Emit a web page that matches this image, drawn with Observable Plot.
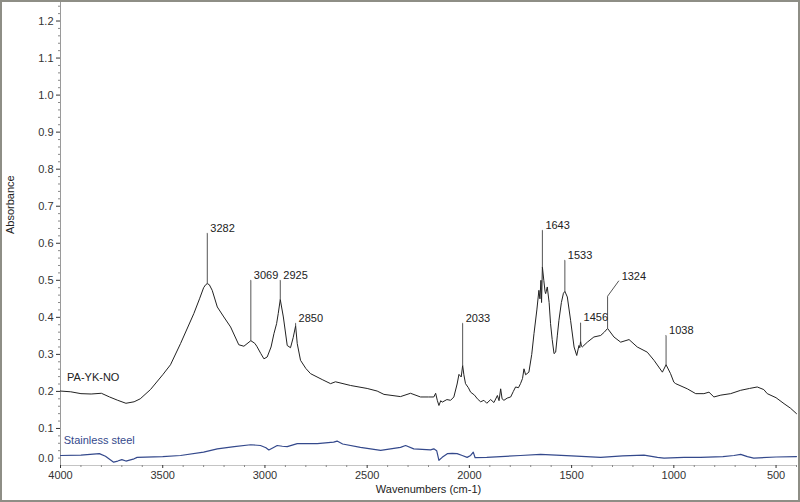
<!DOCTYPE html>
<html><head><meta charset="utf-8">
<script src="https://cdn.jsdelivr.net/npm/d3@7"></script>
<script src="https://cdn.jsdelivr.net/npm/@observablehq/plot@0.6"></script>
<style>
html,body{margin:0;padding:0;background:#fff;}
#chart{position:relative;width:800px;height:502px;overflow:hidden;}
#frame{position:absolute;left:0;top:0;width:800px;height:502px;box-sizing:border-box;border:2px solid #8e8e86;pointer-events:none;}
</style></head>
<body><div id="chart"><div id="frame"></div></div>
<script>
// PA-YK-NO spectrum: [wavenumber, absorbance]
const paSpectrum = [[4000,0.201],[3950,0.199],[3900,0.194],[3850,0.193],[3800,0.195],[3760,0.185],[3720,0.176],[3680,0.168],[3640,0.172],[3610,0.180],[3560,0.205],[3500,0.245],[3462,0.272],[3413,0.329],[3348,0.410],[3320,0.450],[3300,0.480],[3290,0.488],[3282,0.491],[3272,0.488],[3258,0.473],[3233,0.428],[3201,0.401],[3168,0.374],[3128,0.326],[3103,0.322],[3069,0.337],[3050,0.330],[3040,0.322],[3020,0.302],[3005,0.288],[2989,0.293],[2970,0.320],[2956,0.356],[2943,0.383],[2935,0.410],[2925,0.448],[2910,0.401],[2891,0.324],[2875,0.318],[2862,0.345],[2850,0.377],[2842,0.329],[2826,0.284],[2800,0.262],[2777,0.248],[2720,0.232],[2679,0.221],[2655,0.226],[2581,0.216],[2500,0.208],[2451,0.201],[2418,0.192],[2337,0.186],[2288,0.195],[2239,0.185],[2200,0.185],[2174,0.185],[2165,0.195],[2157,0.176],[2149,0.162],[2140,0.175],[2133,0.171],[2110,0.178],[2092,0.176],[2076,0.185],[2060,0.220],[2051,0.246],[2040,0.239],[2033,0.270],[2027,0.245],[2019,0.221],[2005,0.210],[1994,0.198],[1975,0.190],[1961,0.180],[1945,0.172],[1929,0.176],[1915,0.168],[1896,0.178],[1880,0.170],[1863,0.189],[1855,0.175],[1847,0.207],[1840,0.180],[1831,0.176],[1815,0.182],[1798,0.185],[1785,0.200],[1774,0.212],[1760,0.210],[1750,0.221],[1740,0.235],[1733,0.261],[1725,0.245],[1709,0.252],[1695,0.300],[1684,0.356],[1670,0.420],[1660,0.473],[1655,0.450],[1650,0.500],[1647,0.440],[1643,0.536],[1636,0.500],[1630,0.470],[1627,0.464],[1619,0.482],[1610,0.440],[1603,0.383],[1595,0.340],[1586,0.302],[1578,0.306],[1570,0.350],[1562,0.392],[1550,0.440],[1540,0.465],[1533,0.470],[1521,0.455],[1505,0.392],[1488,0.320],[1475,0.297],[1464,0.324],[1460,0.318],[1456,0.335],[1452,0.322],[1448,0.320],[1423,0.333],[1391,0.347],[1358,0.351],[1340,0.360],[1324,0.370],[1293,0.347],[1260,0.333],[1219,0.340],[1179,0.320],[1130,0.306],[1097,0.284],[1056,0.252],[1038,0.272],[1016,0.248],[1000,0.225],[991,0.221],[934,0.207],[893,0.194],[853,0.194],[828,0.198],[804,0.185],[770,0.190],[722,0.194],[673,0.203],[630,0.208],[592,0.212],[560,0.205],[543,0.194],[500,0.183],[461,0.167],[430,0.155],[400,0.140]];

// Stainless steel spectrum: [wavenumber, absorbance]
const steelSpectrum = [[4000,0.027],[3900,0.028],[3810,0.032],[3780,0.025],[3740,0.009],[3720,0.012],[3700,0.016],[3680,0.012],[3640,0.018],[3625,0.022],[3500,0.024],[3413,0.027],[3300,0.036],[3233,0.045],[3150,0.051],[3070,0.056],[3022,0.054],[2995,0.048],[2981,0.042],[2960,0.048],[2940,0.054],[2915,0.052],[2891,0.051],[2842,0.059],[2744,0.059],[2664,0.063],[2647,0.066],[2620,0.058],[2533,0.049],[2434,0.041],[2337,0.049],[2312,0.054],[2272,0.045],[2190,0.042],[2174,0.045],[2160,0.040],[2149,0.014],[2133,0.022],[2108,0.032],[2084,0.033],[2060,0.032],[2035,0.027],[2011,0.022],[1994,0.027],[1981,0.036],[1972,0.021],[1915,0.022],[1750,0.027],[1652,0.030],[1500,0.026],[1358,0.022],[1250,0.026],[1146,0.028],[1080,0.022],[1048,0.020],[950,0.022],[869,0.022],[760,0.024],[706,0.027],[673,0.030],[640,0.024],[609,0.020],[500,0.023],[400,0.024]];

// Peak annotations
const peakLabels = ["3282","3069","2925","2850","2033","1643","1533","1456","1324","1038"];
const peakWn     = [3282, 3069, 2925, 2850, 2033, 1643, 1533, 1456, 1324, 1038];
const peakAbs    = [0.491,0.337,0.448,0.377,0.270,0.536,0.470,0.335,0.370,0.272];
const bendAbs    = [0.627,0.500,0.500,0.384,0.384,0.635,0.554,0.385,0.457,0.351];
const labelWn    = [3282, 3069, 2925, 2850, 2033, 1643, 1533, 1456, 1270, 1038];
const labelAbs   = [0.627,0.500,0.500,0.384,0.384,0.635,0.554,0.385,0.498,0.351];

// Series labels
const seriesNames = ["PA-YK-NO", "Stainless steel"];
const seriesLabelWn = [3968, 3984];
const seriesLabelAbs = [0.238, 0.068];
const seriesColors = ["#222222", "#34498c"];

// Axis ticks
const xMajor = [4000,3500,3000,2500,2000,1500,1000,500];
const xMinor = d3.range(400, 4001, 100).filter(v => v % 500 !== 0);
const yMajor = [0.1,0.2,0.3,0.4,0.5,0.6,0.7,0.8,0.9,1.0,1.1,1.2];
const yMinor = d3.range(0, 63).map(i => +(i*0.02).toFixed(2)).filter(v => Math.abs(v*10 - Math.round(v*10)) > 1e-6);

const leaderPts = [];
peakLabels.forEach((lab, i) => {
  leaderPts.push({k: lab, x: peakWn[i], y: peakAbs[i]});
  leaderPts.push({k: lab, x: peakWn[i], y: bendAbs[i]});
  leaderPts.push({k: lab, x: labelWn[i], y: labelAbs[i]});
});
const annos = peakLabels.map((t, i) => ({t, x: labelWn[i], y: labelAbs[i]}));

const chart = Plot.plot({
  width: 800,
  height: 502,
  marginLeft: 60,
  marginRight: 4,
  marginTop: 2,
  marginBottom: 37,
  style: {fontFamily: "'Liberation Sans', Arial, sans-serif", fontSize: "11px", color: "#333", background: "transparent"},
  x: {domain: [4000, 400]},
  y: {domain: [0, 1.25]},
  marks: [
    Plot.ruleX([4000], {stroke: "#9a9a9a"}),
    Plot.ruleY([0], {stroke: "#c4c4c4"}),
    Plot.axisY({ticks: yMinor, tickSize: 2, tickFormat: () => "", label: null, color: "#888"}),
    Plot.axisY({ticks: yMajor, tickSize: 4, tickPadding: 3, tickFormat: d3.format(".1f"), label: null, color: "#333"}),
    Plot.text(["0.0"], {x: 4000, y: 0, text: d => d, dx: -7, dy: -7, textAnchor: "end", fill: "#333"}),
    Plot.axisX({ticks: xMinor, tickSize: 2, tickFormat: () => "", label: null, color: "#888"}),
    Plot.axisX({ticks: xMajor, tickSize: 3, tickPadding: 3, tickFormat: d3.format("d"), label: null, color: "#333"}),
    Plot.text(["Absorbance"], {frameAnchor: "left", rotate: -90, dx: -50, text: d => d, fill: "#222"}),
    Plot.text(["Wavenumbers (cm-1)"], {frameAnchor: "bottom", dy: 27, text: d => d, fill: "#222"}),
    Plot.line(steelSpectrum, {x: d => d[0], y: d => d[1], stroke: seriesColors[1], strokeWidth: 1.2}),
    Plot.line(paSpectrum, {x: d => d[0], y: d => d[1], stroke: seriesColors[0], strokeWidth: 1}),
    Plot.line(leaderPts, {x: "x", y: "y", z: "k", stroke: "#555", strokeWidth: 1}),
    Plot.text(annos, {x: "x", y: "y", text: "t", dx: 3, dy: -5, textAnchor: "start", fill: "#222"}),
    Plot.text([seriesNames[0]], {x: seriesLabelWn[0], y: seriesLabelAbs[0], text: d => d, fill: seriesColors[0], textAnchor: "start"}),
    Plot.text([seriesNames[1]], {x: seriesLabelWn[1], y: seriesLabelAbs[1], text: d => d, fill: seriesColors[1], textAnchor: "start"})
  ]
});
document.getElementById("chart").prepend(chart);
</script>
</body></html>
